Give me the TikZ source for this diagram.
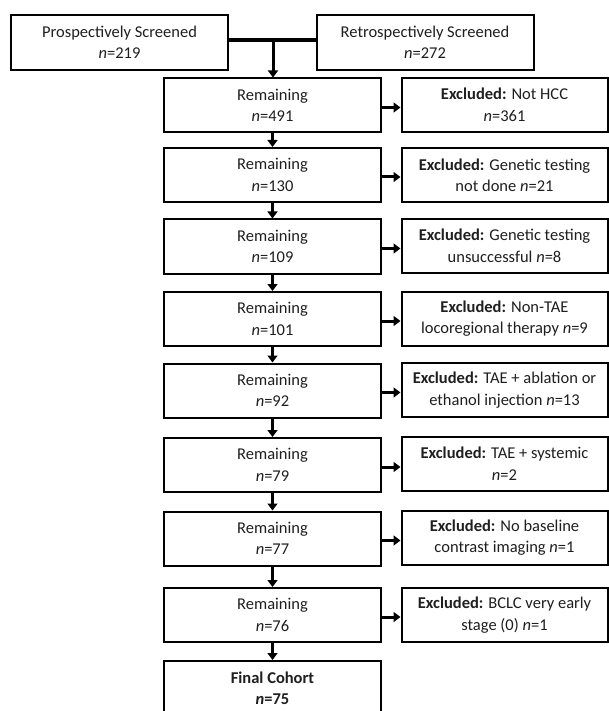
\documentclass[tikz,border=0pt]{standalone}
\usepackage{fontspec}
\setmainfont{Carlito}
\usetikzlibrary{arrows.meta}
\begin{document}
\begin{tikzpicture}[x=1pt,y=-1pt,
  every node/.style={font=\fontsize{16.5}{21.5}\selectfont, text=black!88},
  box/.style={draw=black, line width=2pt, align=center, inner sep=0pt, minimum height=54pt},
  topbox/.style={box, minimum width=217pt, minimum height=55pt},
  rembox/.style={box, minimum width=217pt},
  exbox/.style={box, minimum width=206pt},
  flow/.style={line width=3pt, -{Triangle[width=10pt,length=7pt]}}
]
\useasboundingbox (0,0) rectangle (609,711);
\fill[white] (0,0) rectangle (609,711);

\node[topbox] (pro) at (119.5,42.5) {Prospectively Screened\\\textit{n}=219};
\node[topbox] (retro) at (425,42.5) {Retrospectively Screened\\\textit{n}=272};

\node[rembox] (r1) at (272.5,105.5) {Remaining\\\textit{n}=491};
\node[rembox] (r2) at (272.5,175) {Remaining\\\textit{n}=130};
\node[rembox] (r3) at (272.5,246.5) {Remaining\\\textit{n}=109};
\node[rembox] (r4) at (272.5,319) {Remaining\\\textit{n}=101};
\node[rembox] (r5) at (272.5,390.5) {Remaining\\\textit{n}=92};
\node[rembox] (r6) at (272.5,465) {Remaining\\\textit{n}=79};
\node[rembox] (r7) at (272.5,538.5) {Remaining\\\textit{n}=77};
\node[rembox] (r8) at (272.5,615) {Remaining\\\textit{n}=76};
\node[rembox, minimum height=55pt] (fin) at (272.5,688.5) {\textbf{Final Cohort}\\\textbf{\textit{n}=75}};

\node[exbox] (e1) at (504.5,105) {\textbf{Excluded:} Not HCC\\\textit{n}=361};
\node[exbox] (e2) at (504.5,175.5) {\textbf{Excluded:} Genetic testing\\not done \textit{n}=21};
\node[exbox] (e3) at (504.5,246) {\textbf{Excluded:} Genetic testing\\unsuccessful \textit{n}=8};
\node[exbox] (e4) at (504.5,318.5) {\textbf{Excluded:} Non-TAE\\locoregional therapy \textit{n}=9};
\node[exbox] (e5) at (504.5,390) {\textbf{Excluded:} TAE + ablation or\\ethanol injection \textit{n}=13};
\node[exbox] (e6) at (504.5,463.5) {\textbf{Excluded:} TAE + systemic\\\textit{n}=2};
\node[exbox] (e7) at (504.5,537.5) {\textbf{Excluded:} No baseline\\contrast imaging \textit{n}=1};
\node[exbox] (e8) at (504.5,615) {\textbf{Excluded:} BCLC very early\\stage (0) \textit{n}=1};

% merge of the two screening boxes
\coordinate (m) at (273,40);
\draw[line width=3.5pt] (pro.east |- m) -- (retro.west |- m);
\draw[flow] (m) -- (r1.north -| m);

% vertical flow
\foreach \a/\b in {r1/r2,r2/r3,r3/r4,r4/r5,r5/r6,r6/r7,r7/r8,r8/fin}
  \draw[flow] (\a.south) -- (\b.north);

% exclusions
\foreach \a/\b in {r1/e1,r2/e2,r3/e3,r4/e4,r5/e5,r6/e6,r7/e7,r8/e8}
  \draw[flow] ([yshift=-2pt]\a.east) -- ([yshift=-2pt]\a.east -| \b.west);
\end{tikzpicture}
\end{document}
